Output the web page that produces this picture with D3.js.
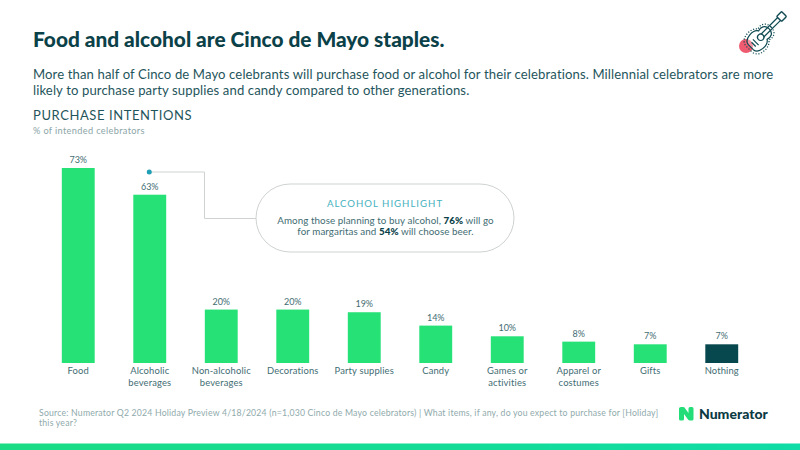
<!DOCTYPE html>
<html>
<head>
<meta charset="utf-8">
<script src="https://cdn.jsdelivr.net/npm/d3@7"></script>
<style>
html,body{margin:0;padding:0;background:#fff}
svg{display:block}
text{font-family:"Lato",sans-serif}
</style>
</head>
<body>
<svg id="chart" width="800" height="450"></svg>
<script>
// Purchase intentions by category
const categories = [["Food"],["Alcoholic","beverages"],["Non-alcoholic","beverages"],["Decorations"],["Party supplies"],["Candy"],["Games or","activities"],["Apparel or","costumes"],["Gifts"],["Nothing"]];
const values = [73,63,20,20,19,14,10,8,7,7];
const highlighted = ["Nothing"];
const subtitleLines = ["More than half of Cinco de Mayo celebrants will purchase food or alcohol for their celebrations. Millennial celebrators are more","likely to purchase party supplies and candy compared to other generations."];
const sourceLines = ["Source: Numerator Q2 2024 Holiday Preview 4/18/2024 (n=1,030 Cinco de Mayo celebrators) | What items, if any, do you expect to purchase for [Holiday]","this year?"];

const ink = "#1f555c", soft = "#3f6d73", green = "#26e176", dark = "#07484f", teal = "#1f9fb4", grey = "#cfd2d2";
const svg = d3.select("#chart");

// Title block
svg.append("text").attr("x",33).attr("y",47).attr("font-size",20.85).attr("font-weight",900).attr("fill","#0b4148")
  .text("Food and alcohol are Cinco de Mayo staples.");
svg.append("g").selectAll("text").data(subtitleLines).join("text")
  .attr("x",33).attr("y",(d,i)=>78.5+i*16.5).attr("font-size",13.1).attr("fill",ink).attr("letter-spacing",0.12).text(d=>d);
svg.append("text").attr("x",33).attr("y",120).attr("font-size",13).attr("letter-spacing",0.58).attr("fill",ink).text("PURCHASE INTENTIONS");
svg.append("text").attr("x",33).attr("y",134).attr("font-size",9.2).attr("letter-spacing",0.35).attr("fill","#8ba5a7").text("% of intended celebrators");

// Scales
const names = categories.map(c=>c.join(" "));
const x = d3.scaleBand().domain(names).range([42.5,757.5]).paddingInner(0.54).paddingOuter(0.27);
const y = d3.scaleLinear().domain([0,73]).range([363,168]);

// Bars
const g = svg.append("g");
g.selectAll("rect").data(values).join("rect")
  .attr("x",(d,i)=>x(names[i])).attr("width",x.bandwidth())
  .attr("y",d=>y(d)).attr("height",d=>y(0)-y(d))
  .attr("fill",(d,i)=>highlighted.includes(names[i])?dark:green);

// Value labels
g.selectAll("text.val").data(values).join("text").attr("class","val")
  .attr("x",(d,i)=>x(names[i])+x.bandwidth()/2).attr("y",d=>y(d)-5)
  .attr("text-anchor","middle").attr("font-size",9).attr("fill",soft).text(d=>d+"%");

// Category axis labels
const xAxis = d3.axisBottom(x).tickSize(0).tickPadding(0).tickFormat("");
const axisG = svg.append("g").attr("transform",`translate(0,${y(0)})`).call(xAxis);
axisG.select(".domain").remove();
axisG.selectAll(".tick").each(function(d,i){
  d3.select(this).selectAll("text.cat").data(categories[i]).join("text").attr("class","cat")
    .attr("y",(t,j)=>11+j*11.5).attr("text-anchor","middle").attr("font-size",9.4).attr("fill",soft)
    .attr("letter-spacing",0.15).text(t=>t);
});

// Callout for alcoholic beverages
const cx = x(names[1])+x.bandwidth()/2;
svg.append("path").attr("fill","none").attr("stroke",grey).attr("stroke-width",1)
  .attr("d",d3.line()([[cx,172],[204.5,172],[204.5,218.5],[256,218.5]]));
svg.append("circle").attr("cx",cx-0.5).attr("cy",172).attr("r",2.5).attr("fill",teal);
svg.append("rect").attr("x",256).attr("y",184).attr("width",258).attr("height",68).attr("rx",34)
  .attr("fill","#fff").attr("stroke",grey);
svg.append("text").attr("x",385).attr("y",207).attr("text-anchor","middle").attr("font-size",9.6)
  .attr("letter-spacing",1).attr("fill","#45b2c0").text("ALCOHOL HIGHLIGHT");
const line1 = svg.append("text").attr("x",385.5).attr("y",224).attr("text-anchor","middle").attr("font-size",9.8).attr("fill",soft).attr("letter-spacing",0.06);
line1.append("tspan").text("Among those planning to buy alcohol, ");
line1.append("tspan").attr("font-weight",900).attr("fill","#0b4148").text("76%");
line1.append("tspan").text(" will go");
const line2 = svg.append("text").attr("x",385.5).attr("y",235).attr("text-anchor","middle").attr("font-size",9.8).attr("fill",soft).attr("letter-spacing",0.06);
line2.append("tspan").text("for margaritas and ");
line2.append("tspan").attr("font-weight",900).attr("fill","#0b4148").text("54%");
line2.append("tspan").text(" will choose beer.");

// Source note
svg.append("g").selectAll("text").data(sourceLines).join("text")
  .attr("x",39).attr("y",(d,i)=>416+i*10).attr("font-size",8.7).attr("letter-spacing",0.2).attr("fill","#8faaac").text(d=>d);

// Brand mark and wordmark
const logo = svg.append("g").attr("transform","translate(679,407)");
logo.append("path").attr("fill","#23dd78")
  .attr("d","M0 1.5Q0 0 2 0L4 0Q5.5 0 6 1.2L9.5 6V1.5Q9.5 0 11 0H13Q14.5 0 14.5 1.5V12Q14.5 13.5 13 13.5H11Q9.6 13.5 9 12.4L5 7V12Q5 13.5 3.5 13.5H1.5Q0 13.5 0 12Z");
svg.append("text").attr("x",699).attr("y",419).attr("font-size",14).attr("font-weight",900).attr("fill","#0c3a44").text("Numerator");

// Guitar icon: red dot behind a body outline, sound hole, neck and headstock
svg.append("circle").attr("cx",746).attr("cy",46).attr("r",7).attr("fill","#ee5a6f");
const guitar = svg.append("g").attr("transform","translate(760,38) rotate(45)").attr("fill","none").attr("stroke","#0f4a52");
const bodyPath = "M0 -13C-6 -13 -7.5 -8 -6 -4C-11 -1 -11 12 -3.5 13H3.5C11 12 11 -1 6 -4C7.5 -8 6 -13 0 -13Z";
guitar.append("path").attr("stroke-width",1.2).attr("fill","#fff").attr("fill-opacity",0.35).attr("d",bodyPath);
guitar.append("path").attr("stroke-width",1).attr("stroke-dasharray","0.9 1.4").attr("transform","scale(1.28,1.2)").attr("d",bodyPath);
guitar.append("circle").attr("cx",0).attr("cy",-1).attr("r",3.2).attr("stroke-width",1.2);
guitar.append("path").attr("stroke-width",1.2).attr("d","M-2 -3V-27M2 -3V-27M-4 6H4M-3 9H3");
guitar.append("rect").attr("x",-3.5).attr("y",-34).attr("width",7).attr("height",7).attr("rx",1).attr("stroke-width",1.4);

// Footer band
const grad = svg.append("defs").append("linearGradient").attr("id","band");
grad.append("stop").attr("offset","0%").attr("stop-color","#1adc84");
grad.append("stop").attr("offset","100%").attr("stop-color","#0fdca6");
svg.append("rect").attr("x",0).attr("y",443.5).attr("width",800).attr("height",6.5).attr("fill","url(#band)");
</script>
</body>
</html>
